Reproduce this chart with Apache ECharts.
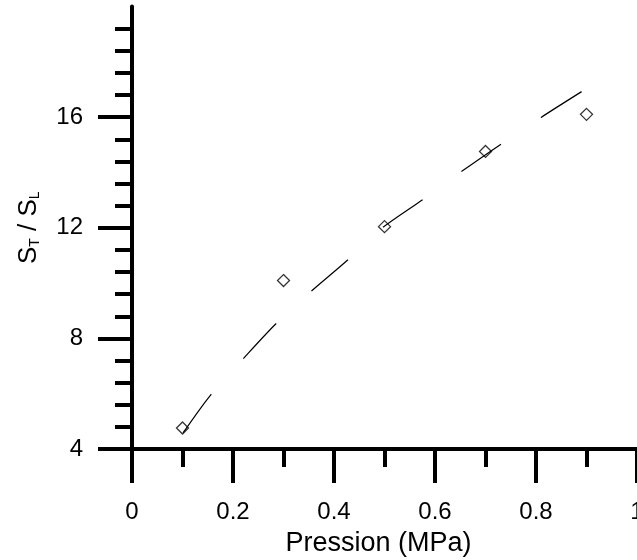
<!DOCTYPE html>
<html>
<head>
<meta charset="utf-8">
<script src="https://cdn.jsdelivr.net/npm/echarts@6/dist/echarts.min.js"></script>
<style>html,body{margin:0;padding:0;background:#fff}#c{width:637px;height:560px}</style>
</head>
<body>
<div id="c"></div>
<script>
// Measured points (pressure MPa, ST/SL)
const pressure = [0.1, 0.3, 0.5, 0.7, 0.9];
const ratio = [4.76, 10.09, 12.04, 14.76, 16.1];
// Fitted curve (dashed)
const fitX = [0.101, 0.156, 0.220, 0.285, 0.354, 0.428, 0.491, 0.576, 0.653, 0.733, 0.810, 0.891];
const fitY = [4.58, 5.96, 7.26, 8.53, 9.69, 10.85, 11.93, 13.02, 14.04, 15.05, 15.99, 16.93];
const yTicks = [4, 8, 12, 16];

const font = 'Liberation Sans, Arial, sans-serif';
const chart = echarts.init(document.getElementById('c'), null, {renderer: 'canvas'});
chart.setOption({
  animation: false,
  backgroundColor: '#fff',
  grid: {left: 132, right: 0, top: 6.5, bottom: 111, containLabel: false, outerBoundsMode: 'none'},
  xAxis: {
    type: 'value', min: 0, max: 1, interval: 0.2,
    name: 'Pression (MPa)', nameLocation: 'middle', nameGap: 81,
    nameTextStyle: {fontFamily: font, fontSize: 27, color: '#000', padding: [0, 12, 0, 0]},
    axisLine: {show: true, onZero: false, lineStyle: {color: '#000', width: 4}},
    axisTick: {show: true, inside: false, length: 34, lineStyle: {color: '#000', width: 4}},
    minorTick: {show: true, splitNumber: 2, length: 18, lineStyle: {color: '#000', width: 4}},
    axisLabel: {fontFamily: font, fontSize: 24, color: '#000', margin: 51,
      formatter: v => String(Math.round(v * 10) / 10)},
    splitLine: {show: false}, minorSplitLine: {show: false}
  },
  yAxis: {
    type: 'value', min: 4, max: 20, interval: 4,
    name: '{m|S}{s|T}{m| / S}{s|L}', nameLocation: 'middle', nameGap: 90, nameRotate: 90,
    nameTextStyle: {fontFamily: font, color: '#000',
      rich: {
        m: {fontFamily: font, fontSize: 26, color: '#000', lineHeight: 26, verticalAlign: 'top'},
        s: {fontFamily: font, fontSize: 14, color: '#000', lineHeight: 14, padding: [19, 0, 0, 0], verticalAlign: 'bottom'}
      }},
    axisLine: {show: true, onZero: false, lineStyle: {color: '#000', width: 4}},
    axisTick: {show: true, inside: false, length: 34, customValues: yTicks, lineStyle: {color: '#000', width: 4}},
    minorTick: {show: true, splitNumber: 5, length: 17, lineStyle: {color: '#000', width: 4}},
    axisLabel: {fontFamily: font, fontSize: 24, color: '#000', margin: 49, customValues: yTicks},
    splitLine: {show: false}, minorSplitLine: {show: false}
  },
  series: [
    {
      type: 'line', data: fitX.map((x, i) => [x, fitY[i]]),
      showSymbol: false, symbol: 'none', smooth: 0.3,
      lineStyle: {color: '#000', width: 1.2, type: [48, 48]}, z: 2
    },
    {
      type: 'scatter', data: pressure.map((x, i) => [x, ratio[i]]),
      symbol: 'diamond', symbolSize: 12,
      itemStyle: {color: 'rgba(0,0,0,0)', borderColor: '#000', borderWidth: 1.3}, z: 3
    }
  ]
});
</script>
</body>
</html>
